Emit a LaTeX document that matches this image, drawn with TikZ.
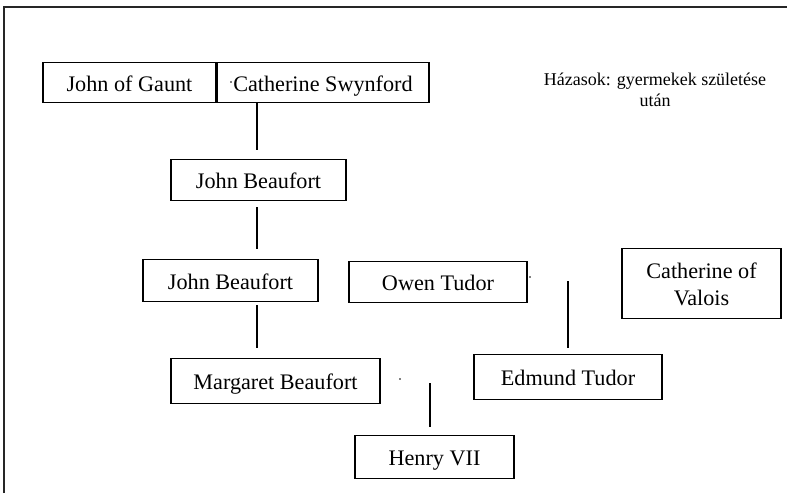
\documentclass[tikz,border=0pt]{standalone}
\usepackage{fontspec}
\setmainfont{Liberation Serif}
\begin{document}
\begin{tikzpicture}[x=1pt,y=-1pt,
  person/.style={draw, line width=1.1pt, inner sep=0pt, align=center,
    text height=17pt, text depth=0pt,
    font=\fontsize{22.2}{27}\selectfont},
  link/.style={line width=1.1pt},
  frameline/.style={line width=1.6pt, draw=black!85},
  dotmark/.style={circle, fill=black, inner sep=0pt, minimum size=1.6pt}]
\useasboundingbox (0,0) rectangle (787,493);
% frame
\coordinate (f1) at (4,493);
\coordinate (f2) at (4,7);
\coordinate (f3) at (787,7);
\draw[frameline] (f1) -- (f2) -- (f3);
% people
\node[person, minimum width=173pt, minimum height=40pt] (jg) at (129.5,82.5) {John of Gaunt};
\node[person, minimum width=212pt, minimum height=40pt] (cs) at (323,82.5) {Catherine Swynford};
\node[person, minimum width=175pt, minimum height=41pt] (jb1) at (258.5,180) {John Beaufort};
\node[person, minimum width=175pt, minimum height=42pt] (jb2) at (230.5,280.5) {John Beaufort};
\node[person, minimum width=178pt, minimum height=41pt] (ot) at (438,282) {Owen Tudor};
\node[person, minimum width=159pt, minimum height=70pt, text height=44pt, text depth=0pt] (cv) at (701.5,283.5) {Catherine of\\Valois};
\node[person, minimum width=188pt, minimum height=45pt] (et) at (568,377) {Edmund Tudor};
\node[person, minimum width=209pt, minimum height=45pt] (mb) at (275.5,381) {Margaret Beaufort};
\node[person, minimum width=159pt, minimum height=43pt] (h7) at (434.5,457) {Henry VII};
% note
\node[align=center, inner sep=0pt, font=\fontsize{18}{20.5}\selectfont] (note) at (655,90) {Házasok: gyermekek születése\\után};
% small dots
\node[dotmark] (d1) at (231,82) {};
\node[dotmark] (d2) at (530,277) {};
\node[dotmark] (d3) at (400,379) {};
% descent lines
\coordinate (m1) at (257,102);
\coordinate (m1b) at (257,150);
\draw[link] (m1) -- (m1b);
\draw[link, shorten <=6pt, shorten >=10pt] (jb1.south -| m1) -- (jb2.north -| m1);
\draw[link, shorten <=3pt, shorten >=10pt] (jb2.south -| m1) -- (mb.north -| m1);
\coordinate (m2) at (568,281);
\draw[link, shorten >=6pt] (m2) -- (et.north);
\coordinate (m3) at (430,383);
\draw[link, shorten >=8pt] (m3) -- (h7.north -| m3);
\end{tikzpicture}
\end{document}
